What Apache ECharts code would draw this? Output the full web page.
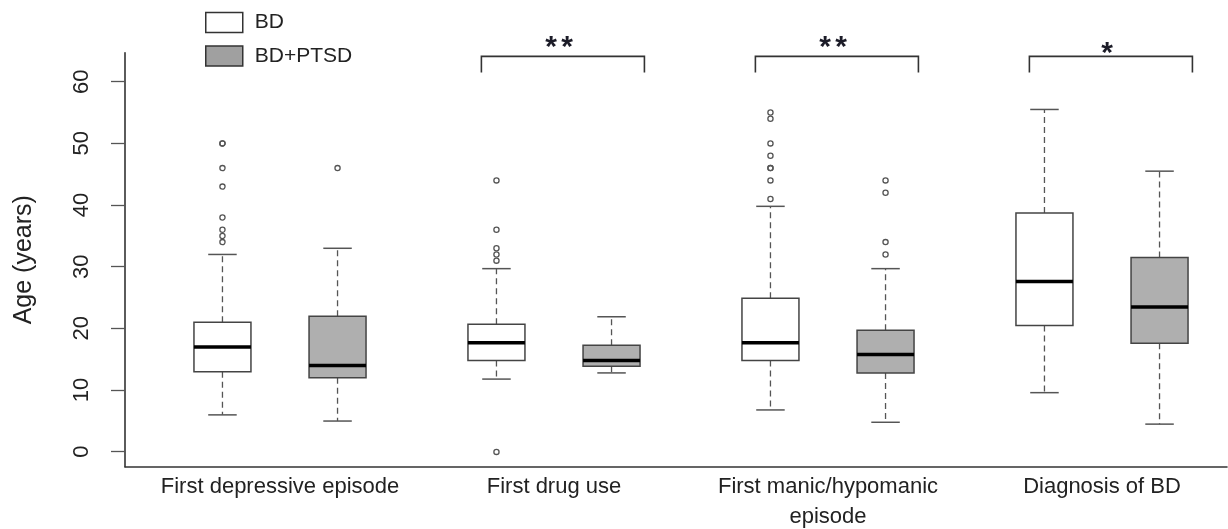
<!DOCTYPE html>
<html><head><meta charset="utf-8">
<script src="https://cdn.jsdelivr.net/npm/echarts@6/dist/echarts.min.js"></script>
<style>html,body{margin:0;padding:0;background:#fff}#c{width:1228px;height:529px}</style>
</head><body><div id="c"></div>
<script>
// ---- data ----
const categories = ['First depressive episode', 'First drug use', 'First manic/hypomanic\nepisode', 'Diagnosis of BD'];
const seriesNames = ['BD', 'BD+PTSD'];
// [min, Q1, median, Q3, max]
const bdBoxes = [[6, 13, 17, 21, 32], [11.8, 14.8, 17.7, 20.7, 29.7], [6.8, 14.8, 17.7, 24.9, 39.8], [9.6, 20.5, 27.6, 38.7, 55.5]];
const ptsdBoxes = [[5, 12, 14, 22, 33], [12.8, 13.9, 14.8, 17.3, 21.9], [4.8, 12.8, 15.8, 19.7, 29.7], [4.5, 17.6, 23.5, 31.5, 45.5]];
const bdOutliers = [[34, 35, 36, 38, 43, 46, 50, 50], [0, 31, 32, 33, 36, 44], [41, 44, 46, 46, 48, 50, 54, 55], []];
const ptsdOutliers = [[46], [], [32, 34, 42, 44], []];
const yTicks = [0, 10, 20, 30, 40, 50, 60];
const sigLabels = ['', '**', '**', '*'];
const sigTop = [null, 64.1, 64.1, 64.1];
const sigLeg = [null, 61.5, 61.5, 61.5];

// ---- helpers ----
const FONT = "'Liberation Sans', Arial, sans-serif";
const fills = ['#ffffff', '#afafaf'];
const legendFills = ['#ffffff', '#a0a0a0'];
const SIDE = 0.21, HALFW = 0.104;

function boxData(arr) { return arr.map((b, i) => [i].concat(b)); }
function outData(arr) { const r = []; arr.forEach((vals, i) => vals.forEach(v => r.push([i, v]))); return r; }

function boxRender(side, fill) {
  return function (params, api) {
    const gi = api.value(0);
    const band = api.size([1, 0])[0];
    const cx = api.coord([gi, 0])[0] + side * SIDE * band;
    const hw = HALFW * band;
    const y = k => api.coord([gi, api.value(k)])[1];
    const yMin = y(1), yQ1 = y(2), yMed = y(3), yQ3 = y(4), yMax = y(5);
    const dash = { stroke: '#555', lineWidth: 1.3, lineDash: [6, 4] };
    const cap = { stroke: '#555', lineWidth: 1.5 };
    return {
      type: 'group', children: [
        { type: 'line', shape: { x1: cx, y1: yQ3, x2: cx, y2: yMax }, style: dash },
        { type: 'line', shape: { x1: cx, y1: yQ1, x2: cx, y2: yMin }, style: dash },
        { type: 'line', shape: { x1: cx - hw / 2, y1: yMax, x2: cx + hw / 2, y2: yMax }, style: cap },
        { type: 'line', shape: { x1: cx - hw / 2, y1: yMin, x2: cx + hw / 2, y2: yMin }, style: cap },
        { type: 'rect', shape: { x: cx - hw, y: yQ3, width: 2 * hw, height: yQ1 - yQ3 }, style: { fill: fill, stroke: '#444', lineWidth: 1.5 } },
        { type: 'line', shape: { x1: cx - hw, y1: yMed, x2: cx + hw, y2: yMed }, style: { stroke: '#000', lineWidth: 3.5 } }
      ]
    };
  };
}
function outRender(side) {
  return function (params, api) {
    const gi = api.value(0);
    const band = api.size([1, 0])[0];
    const p = api.coord([gi, api.value(1)]);
    return { type: 'circle', shape: { cx: p[0] + side * SIDE * band, cy: p[1], r: 2.6 }, style: { fill: 'none', stroke: '#555', lineWidth: 1.3 } };
  };
}
const sigData = [];
sigLabels.forEach((s, i) => { if (s) sigData.push([i, sigTop[i], sigLeg[i]]); });
function sigRender(params, api) {
  const gi = api.value(0);
  const band = api.size([1, 0])[0];
  const c = api.coord([gi, api.value(1)]);
  const legY = api.coord([gi, api.value(2)])[1];
  const l = c[0] - 0.265 * band, r = c[0] + 0.33 * band;
  const label = sigLabels[gi];
  const n = label.length;
  const children = [
    { type: 'polyline', shape: { points: [[l, legY], [l, c[1]], [r, c[1]], [r, legY]] }, style: { fill: 'none', stroke: '#333', lineWidth: 1.6 } }
  ];
  const ty = c[1] - (n > 1 ? 8.5 : 3);
  for (let k = 0; k < n; k++) {
    children.push({ type: 'text', x: c[0] + 5 + (k - (n - 1) / 2) * 16, y: ty,
      style: { text: '*', fill: '#1c1c28', font: 'bold 30px ' + FONT, textAlign: 'center', textVerticalAlign: 'middle' } });
  }
  return { type: 'group', children: children };
}

const chart = echarts.init(document.getElementById('c'), null, { renderer: 'canvas' });
const noAxis = { show: false };
chart.setOption({
  animation: false,
  backgroundColor: '#fff',
  legend: {
    orient: 'vertical', left: 205, top: 11.7, padding: 0, itemWidth: 37, itemHeight: 20, itemGap: 12,
    textStyle: { fontFamily: FONT, fontSize: 21, color: '#222', padding: [0, 0, 0, 7] },
    selectedMode: false,
    data: seriesNames.map((n, i) => ({ name: n, icon: 'rect', itemStyle: { color: legendFills[i], borderColor: '#333', borderWidth: 1.5 } }))
  },
  grid: [
    { left: 125, right: 1, top: 52.7, height: 414, outerBoundsMode: 'none', containLabel: false },
    { left: 125, right: 1, top: 81.7, height: 370, outerBoundsMode: 'none', containLabel: false },
    { left: 143, width: 1096, top: 52.7, height: 414, outerBoundsMode: 'none', containLabel: false }
  ],
  xAxis: [
    { gridIndex: 0, type: 'value', min: 0, max: 1, axisLine: { show: true, onZero: false, lineStyle: { color: '#333', width: 1.6 } }, axisTick: noAxis, axisLabel: noAxis, splitLine: noAxis },
    { gridIndex: 1, type: 'value', min: 0, max: 1, show: false },
    { gridIndex: 2, type: 'category', data: categories, axisLine: { show: false, onZero: false }, axisTick: noAxis, splitLine: noAxis,
      axisLabel: { interval: 0, margin: 5, fontFamily: FONT, fontSize: 22, color: '#222', lineHeight: 30 } }
  ],
  yAxis: [
    { gridIndex: 0, type: 'value', min: -2.4, max: 64.7, axisLine: { show: true, onZero: false, lineStyle: { color: '#333', width: 1.6 } }, axisTick: noAxis, axisLabel: noAxis, splitLine: noAxis,
      name: 'Age (years)', nameLocation: 'middle', nameRotate: 90, nameGap: 88, nameTextStyle: { fontFamily: FONT, fontSize: 25, color: '#222' } },
    { gridIndex: 1, type: 'value', min: yTicks[0], max: yTicks[yTicks.length - 1], interval: 10, axisLine: { show: false, onZero: false },
      axisTick: { show: true, length: 14, lineStyle: { color: '#555', width: 1.3 } }, splitLine: noAxis,
      axisLabel: { rotate: 90, margin: 32, fontFamily: FONT, fontSize: 22, color: '#222' } },
    { gridIndex: 2, type: 'value', min: -2.4, max: 64.7, show: false }
  ],
  series: [
    { name: seriesNames[0], type: 'custom', xAxisIndex: 2, yAxisIndex: 2, data: boxData(bdBoxes), encode: { x: 0, y: [1, 2, 3, 4, 5] }, renderItem: boxRender(-1, fills[0]), itemStyle: { color: legendFills[0], borderColor: '#333' } },
    { name: seriesNames[1], type: 'custom', xAxisIndex: 2, yAxisIndex: 2, data: boxData(ptsdBoxes), encode: { x: 0, y: [1, 2, 3, 4, 5] }, renderItem: boxRender(1, fills[1]), itemStyle: { color: legendFills[1], borderColor: '#333' } },
    { name: seriesNames[0], type: 'custom', xAxisIndex: 2, yAxisIndex: 2, data: outData(bdOutliers), encode: { x: 0, y: 1 }, renderItem: outRender(-1), itemStyle: { color: legendFills[0] } },
    { name: seriesNames[1], type: 'custom', xAxisIndex: 2, yAxisIndex: 2, data: outData(ptsdOutliers), encode: { x: 0, y: 1 }, renderItem: outRender(1), itemStyle: { color: legendFills[1] } },
    { name: 'significance', type: 'custom', xAxisIndex: 2, yAxisIndex: 2, data: sigData, encode: { x: 0, y: [1, 2] }, renderItem: sigRender, clip: false }
  ]
});
</script></body></html>
